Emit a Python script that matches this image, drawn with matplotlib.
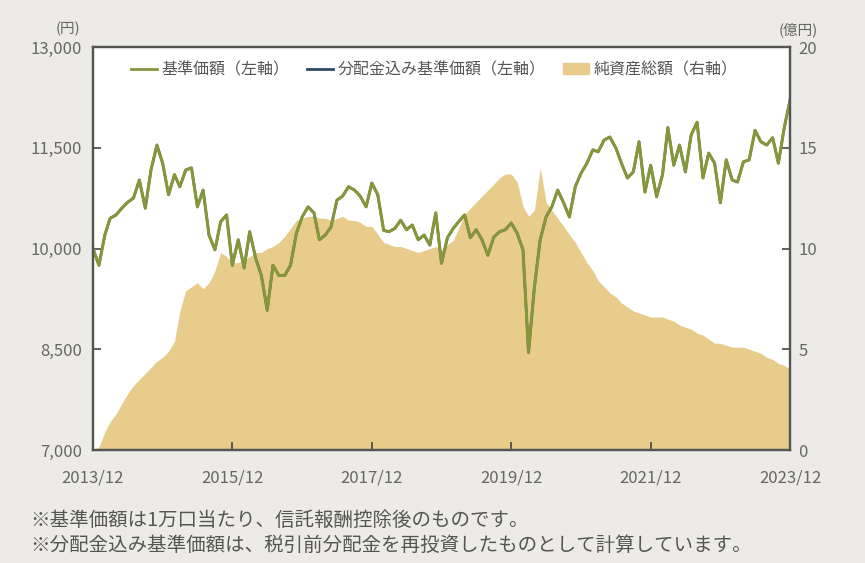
import pandas as pd
import matplotlib.pyplot as plt
import matplotlib.ticker as mticker
from matplotlib.lines import Line2D
import matplotlib.patches as mpatches

plt.rcParams['font.family'] = ['Noto Sans CJK JP', 'DejaVu Sans']

# monthly points, 2013/12 - 2023/12
dates = pd.date_range("2013-12-01", "2023-12-01", freq="MS")

# 基準価額 (円)
nav = [
    10000, 9750, 10200, 10450, 10500, 10600, 10690, 10750, 11020, 10600,
    11170, 11540, 11270, 10800, 11100, 10920, 11170, 11200, 10620, 10870,
    10200, 9980, 10400, 10500, 9750, 10130, 9710, 10250, 9860, 9600,
    9080, 9750, 9600, 9600, 9750, 10230, 10470, 10620, 10530, 10130,
    10200, 10320, 10720, 10780, 10920, 10870, 10780, 10620, 10975, 10800,
    10270, 10250, 10300, 10420, 10280, 10350, 10130, 10200, 10050, 10530,
    9780, 10160, 10300, 10400, 10500, 10160, 10280, 10130, 9900, 10170,
    10250, 10280, 10380, 10230, 9980, 8450, 9430, 10130, 10470, 10620,
    10870, 10680, 10470, 10920, 11120, 11270, 11470, 11440, 11615, 11660,
    11500, 11270, 11050, 11140, 11590, 10840, 11240, 10770, 11100, 11800,
    11240, 11540, 11140, 11690, 11880, 11050, 11420, 11270, 10680, 11320,
    11020, 10990, 11290, 11320, 11760, 11590, 11540, 11650, 11270, 11800,
    12210,
]
# 分配金込み基準価額 (円) - no distributions paid, same as nav
nav_reinvested = list(nav)

# 純資産総額 (億円)
net_assets = [
    0.0, 0.15, 0.9, 1.4, 1.8, 2.3, 2.8, 3.2, 3.5, 3.8,
    4.1, 4.4, 4.6, 4.9, 5.4, 6.9, 7.9, 8.1, 8.3, 8.0,
    8.3, 8.9, 9.8, 9.6, 9.3, 9.3, 9.4, 9.6, 9.8, 9.8,
    10.0, 10.1, 10.3, 10.6, 11.0, 11.4, 11.5, 11.6, 11.6, 11.5,
    11.5, 11.4, 11.5, 11.6, 11.4, 11.4, 11.3, 11.1, 11.1, 10.7,
    10.3, 10.2, 10.1, 10.1, 10.0, 9.9, 9.8, 9.9, 10.0, 10.1,
    9.9, 10.2, 10.4, 11.0, 11.7, 12.0, 12.3, 12.6, 12.9, 13.2,
    13.5, 13.7, 13.7, 13.3, 12.1, 11.6, 11.9, 14.0, 12.3, 11.9,
    11.5, 11.1, 10.7, 10.3, 9.8, 9.3, 8.9, 8.4, 8.1, 7.8,
    7.6, 7.3, 7.1, 6.9, 6.8, 6.7, 6.6, 6.6, 6.6, 6.5,
    6.4, 6.2, 6.1, 6.0, 5.8, 5.7, 5.5, 5.3, 5.3, 5.2,
    5.1, 5.1, 5.1, 5.0, 4.9, 4.8, 4.6, 4.5, 4.3, 4.2,
    4.0,
]

tick_dates = pd.to_datetime(["2013-12-01", "2015-12-01", "2017-12-01",
                             "2019-12-01", "2021-12-01", "2023-12-01"])
tick_labels = ["2013/12", "2015/12", "2017/12", "2019/12", "2021/12", "2023/12"]

BG = "#EDEBE8"
GREEN = "#85963B"
BLUE = "#2C4B66"
TAN = "#E7CC8B"
SPINE = "#555555"
TXT = "#666666"

fig = plt.figure(figsize=(8.65, 5.63), dpi=100)
fig.patch.set_facecolor(BG)
ax = fig.add_axes([0.1075, 0.2007, 0.8058, 0.7158])
ax2 = ax.twinx()

# area on the right axis, lines on the left axis above it
ax2.set_zorder(1)
ax.set_zorder(2)
ax.patch.set_visible(False)
ax2.patch.set_visible(True)
ax2.patch.set_facecolor("white")

ax2.fill_between(dates, net_assets, 0, color=TAN, linewidth=0)
ax.plot(dates, nav_reinvested, color=BLUE, linewidth=1.8)
ax.plot(dates, nav, color=GREEN, linewidth=2.2)

ax.set_xlim(dates[0], dates[-1])
ax.set_ylim(7000, 13000)
ax.set_yticks([7000, 8500, 10000, 11500, 13000])
ax.yaxis.set_major_formatter(mticker.FuncFormatter(lambda v, p: f"{int(v):,}"))
ax2.set_ylim(0, 20)
ax2.set_yticks([0, 5, 10, 15, 20])

ax.set_xticks(tick_dates)
ax.set_xticklabels(tick_labels)

for a in (ax, ax2):
    for spine in a.spines.values():
        spine.set_color(SPINE)
        spine.set_linewidth(1.6)
    a.tick_params(direction="in", length=6, width=1.2, color="#444444",
                  labelcolor=TXT, labelsize=12)
ax.tick_params(axis="x", pad=14)
ax.tick_params(axis="y", pad=8)
ax2.tick_params(axis="y", pad=6)

fig.text(0.078, 0.948, "(円)", ha="center", va="center", fontsize=10.5, color=TXT)
fig.text(0.946, 0.948, "(億円)", ha="right", va="center", fontsize=10.5, color=TXT)

handles = [
    Line2D([], [], color=GREEN, linewidth=2),
    Line2D([], [], color=BLUE, linewidth=2),
    mpatches.Patch(color=TAN),
]
labels = ["基準価額（左軸）", "分配金込み基準価額（左軸）", "純資産総額（右軸）"]
ax.legend(handles, labels, loc="upper center", bbox_to_anchor=(0.49, 1.0),
          ncol=3, frameon=False, fontsize=11.5, labelcolor="#555555",
          handlelength=1.6, handletextpad=0.3, columnspacing=1.1)

fig.text(0.035, 0.075, "※基準価額は1万口当たり、信託報酬控除後のものです。",
         ha="left", va="center", fontsize=14, color="#555555")
fig.text(0.035, 0.032, "※分配金込み基準価額は、税引前分配金を再投資したものとして計算しています。",
         ha="left", va="center", fontsize=14, color="#555555")

plt.savefig("out.png", dpi=100, facecolor=fig.get_facecolor())
